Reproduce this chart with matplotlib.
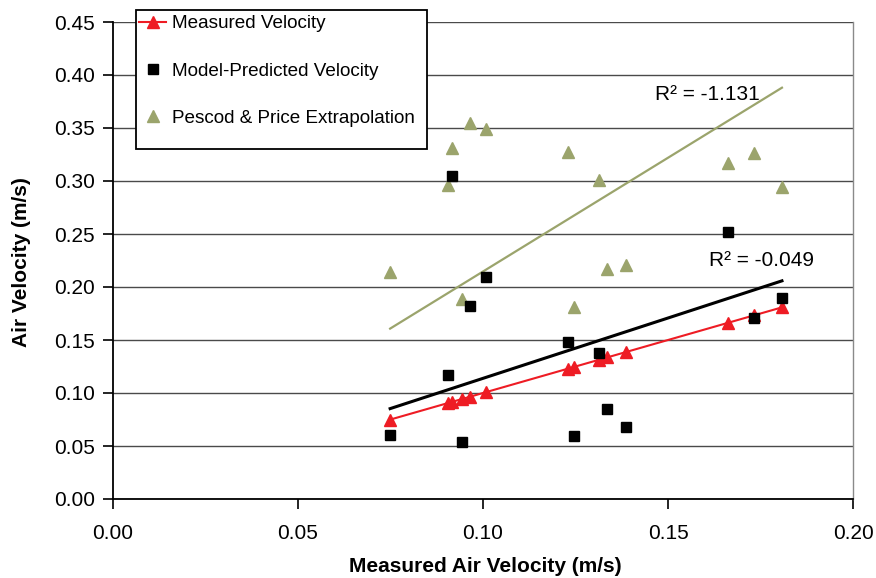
import numpy as np
import matplotlib
matplotlib.use("Agg")
import matplotlib.pyplot as plt
from matplotlib.patches import Rectangle

plt.rcParams["font.family"] = ["Liberation Sans", "DejaVu Sans"]

# ---- Data ----
measured = [0.0749, 0.0905, 0.0915, 0.0943, 0.0965, 0.1008, 0.1230,
            0.1246, 0.1314, 0.1335, 0.1386, 0.1662, 0.1732, 0.1808]
model_pred = [0.060, 0.117, 0.305, 0.054, 0.182, 0.209, 0.148,
              0.059, 0.138, 0.085, 0.068, 0.252, 0.171, 0.190]
pescod = [0.214, 0.296, 0.331, 0.189, 0.355, 0.349, 0.327,
          0.181, 0.301, 0.217, 0.221, 0.317, 0.326, 0.294]
r2_model = "R\u00b2 = -0.049"
r2_pescod = "R\u00b2 = -1.131"

GREEN = "#9ba46c"
RED = "#ee1c24"
W, H = 876, 578
FS = 15


def origin_fit(x, y):
    # Excel trendline with intercept forced to zero
    x = np.asarray(x)
    y = np.asarray(y)
    return (x * y).sum() / (x * x).sum()


fig = plt.figure(figsize=(W / 100, H / 100), dpi=100)
ax = fig.add_axes([113 / W, 1 - 499 / H, (853 - 113) / W, (499 - 22) / H])

xs = np.array(measured)
order = np.argsort(xs)
ax.plot(xs[order], xs[order], color=RED, lw=1.5, marker="^", ms=8,
        mec=RED, mfc=RED, zorder=4, label="Measured Velocity")
ax.plot(xs, model_pred, ls="none", marker="s", ms=7.5, color="black",
        zorder=5, label="Model-Predicted Velocity")
ax.plot(xs, pescod, ls="none", marker="^", ms=8.5, color=GREEN,
        zorder=3, label="Pescod & Price Extrapolation")

xr = np.array([xs.min(), xs.max()])
ax.plot(xr, origin_fit(xs, model_pred) * xr, color="black", lw=2.2, zorder=3)
ax.plot(xr, origin_fit(xs, pescod) * xr, color=GREEN, lw=1.6, zorder=2)

ax.text((655 - 113) / 3700, (499 - 95) / 1060, r2_pescod, fontsize=FS,
        ha="left", va="center")
ax.text((709 - 113) / 3700, (499 - 261) / 1060, r2_model, fontsize=FS,
        ha="left", va="center")

ax.set_xlim(0, 0.20)
ax.set_ylim(0, 0.45)
ax.set_xticks(np.arange(0, 0.201, 0.05))
ax.set_yticks(np.arange(0, 0.451, 0.05))
ax.xaxis.set_major_formatter(plt.FormatStrFormatter("%.2f"))
ax.yaxis.set_major_formatter(plt.FormatStrFormatter("%.2f"))
ax.tick_params(axis="x", direction="out", length=7, width=1.2, pad=11,
               labelsize=FS)
ax.tick_params(axis="y", direction="out", length=7, width=1.2, pad=6,
               labelsize=FS)
ax.yaxis.grid(True, color="#4a4a4a", lw=1.0)
ax.set_axisbelow(True)

for s in ("left", "bottom"):
    ax.spines[s].set_color("black")
    ax.spines[s].set_linewidth(1.3)
ax.spines["right"].set_color("#8a8a8a")
ax.spines["right"].set_linewidth(1.0)
ax.spines["top"].set_visible(False)

fig.text(485 / W, 1 - 566 / H, "Measured Air Velocity (m/s)", fontsize=FS,
         fontweight="bold", ha="center", va="center")
fig.text(22 / W, 1 - 262 / H, "Air Velocity (m/s)", fontsize=FS,
         fontweight="bold", ha="center", va="center", rotation=90)

# legend box sits above the plot area, like the Excel original
fig.patches.append(Rectangle((136 / W, 1 - 149 / H), (427 - 136) / W,
                             (149 - 10) / H, transform=fig.transFigure,
                             facecolor="white", edgecolor="black", lw=1.3,
                             zorder=4))
h, l = ax.get_legend_handles_labels()
fig.legend(h, l, loc="upper left", bbox_to_anchor=(139 / W, 1 - 15 / H),
           bbox_transform=fig.transFigure, frameon=False, fontsize=13.6,
           borderaxespad=0, borderpad=0, labelspacing=1.6,
           handlelength=1.45, handletextpad=0.3)

fig.savefig("out.png", dpi=100)
